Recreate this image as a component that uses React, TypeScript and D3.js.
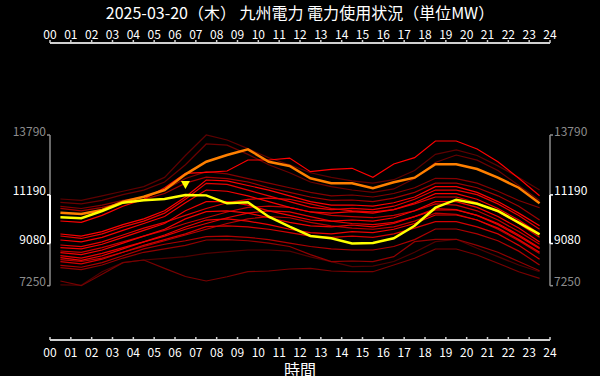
import React from "react";
import * as d3 from "d3";

const title = "2025-03-20（木） 九州電力 電力使用状況（単位MW）";
const xAxisTitle = "時間";
const tickLabels = ["00","01","02","03","04","05","06","07","08","09","10","11","12","13","14","15","16","17","18","19","20","21","22","23","24"];

// hourly values plotted at the middle of each hour (00:30 ... 23:30)
const today = [10218,10175,10492,10852,10956,11012,11190,11170,10826,10869,10244,9810,9407,9307,9080,9100,9307,9850,10635,10982,10808,10492,9984,9480];
const yesterday = [10418,10361,10535,10895,11112,11403,12084,12631,12922,13169,12631,12445,11911,11694,11694,11477,11737,11937,12518,12518,12314,11937,11503,10826];

const pastDaysAgo = [20, 2, 19, 17, 15, 3, 8, 4, 10, 5, 12, 6, 9, 7, 13, 11, 14, 16, 18, 21];
const pastSeries = [
  [11012,10950,11150,11350,11550,11950,12900,13790,13573,13200,12800,12500,12150,11950,11800,11700,11850,12250,12950,13140,12900,12450,11950,11400],
  [10058,10000,10300,10700,11000,11500,12128,12171,12228,12705,12705,12790,12197,12300,12345,11955,12532,12805,13530,13530,13183,12632,11911,11156],
  [10869,10800,10950,11200,11400,11750,12500,13400,13350,12950,12500,12150,11750,11550,11403,11300,11450,11900,12600,12922,12700,12250,11600,10950],
  [10696,10600,10750,10950,11100,11400,11900,12197,12100,11900,11700,11500,11300,11150,11186,11100,11250,11500,11911,11900,11700,11350,10950,10635],
  [10609,10500,10650,10850,11000,11250,11700,11960,11900,11750,11500,11300,11100,10950,10969,10900,11050,11300,11700,11700,11500,11150,10700,10100],
  [9494,9400,9600,9900,10150,10500,11100,11837,11800,11600,11400,11150,10900,10750,10752,10700,10850,11100,11547,11547,11300,10900,10400,9850],
  [9407,9300,9500,9800,10050,10400,11000,11693,11650,11400,11150,10900,10650,10550,10609,10550,10700,11000,11400,11400,11200,10800,10300,9700],
  [9234,9150,9350,9650,9950,10250,10850,11403,11350,11150,10900,10650,10450,10400,10461,10400,10550,10850,11242,11242,11000,10600,10100,9500],
  [9017,8950,9150,9450,9750,10000,10300,10600,10850,11000,11050,11000,10800,10600,10500,10450,10550,10800,11100,11100,10850,10450,9950,9350],
  [8900,8850,9050,9350,9650,9950,10500,10895,10900,10750,10500,10300,10100,10050,10101,10050,10200,10500,10900,10900,10650,10250,9750,9150],
  [8757,8700,8900,9150,9400,9650,9950,10200,10450,10650,10700,10650,10450,10300,10250,10200,10300,10500,10800,10750,10500,10100,9600,9050],
  [8683,8600,8800,9100,9400,9700,10150,10461,10500,10400,10200,10000,9850,9800,9884,9800,9950,10250,10535,10535,10300,9950,9450,8900],
  [8552,8450,8650,8900,9150,9400,9700,9950,10200,10400,10500,10450,10250,10050,9950,9900,10000,10250,10600,10550,10300,9900,9400,8850],
  [8465,8350,8550,8850,9150,9450,9800,10100,10150,10050,9900,9700,9550,9500,9595,9550,9700,9950,10318,10318,10100,9750,9250,8700],
  [8378,8300,8450,8700,8950,9200,9450,9700,9950,10150,10250,10200,10000,9850,9750,9700,9800,10050,10400,10350,10100,9700,9200,8650],
  [8292,8200,8400,8700,9000,9250,9500,9812,9850,9800,9700,9550,9400,9350,9400,9350,9500,9750,10027,10027,9800,9500,9000,8400],
  [8136,8050,8250,8550,8850,9050,9200,9378,9400,9350,9250,9100,8950,8850,8799,8800,8950,9250,9711,9711,9500,9200,8750,8150],
  [8032,7950,8150,8450,8700,8850,9000,9234,9250,9200,9100,8950,8600,8292,8322,8292,8510,9160,9264,9264,9000,8700,8300,7900],
  [7454,7250,7743,8250,8365,8000,7650,7454,7640,7857,7888,7975,8005,7888,7857,7857,8148,8440,8843,8843,8582,8222,7857,7569],
  [7290,7270,7857,8250,8365,8440,8510,8656,8727,8800,8800,8750,8500,8292,8075,8100,8300,8700,9160,9264,8873,8510,8148,7857],
];

const W = 600;
const H = 376;
const FONT = "'Noto Sans CJK JP', 'Noto Sans', sans-serif";

export default function App() {
  const all = [...pastSeries.flat(), ...today, ...yesterday];
  const allMax = d3.max(all) as number;
  const allMin = d3.min(all) as number;
  const todayMax = d3.max(today) as number;
  const todayMin = d3.min(today) as number;
  const todayMaxIdx = today.indexOf(todayMax);

  const x = d3.scaleLinear().domain([0, 24]).range([50, 550]);
  const y = d3.scaleLinear().domain([allMin, allMax]).range([285.7, 135]);

  const line = d3
    .line<number>()
    .x((_, i) => x(i + 0.5))
    .y((d) => y(d));

  const color = d3
    .scaleLinear<string>()
    .domain([2, 10, 21])
    .range(["#ff0000", "#e00000", "#500000"])
    .interpolate(d3.interpolateRgb);

  const order = pastSeries.map((s, i) => ({ s, a: pastDaysAgo[i] })).sort((p, q) => q.a - p.a);

  const yTicks = [allMax, todayMax, todayMin, allMin];
  const tickColor = (v: number) => (v === todayMax || v === todayMin ? "#ffffff" : "#8c8c8c");

  const mx = x(todayMaxIdx + 0.5);
  const my = y(todayMax) - 6;

  return (
    <svg width={W} height={H} style={{ position: "fixed", left: 0, top: 0, display: "block" }} fontFamily={FONT}>
      <rect x={0} y={0} width={W} height={H} fill="#000" />
      <text x={300} y={19} textAnchor="middle" fill="#fff" fontSize={16}>{title}</text>

      {/* top axis */}
      <line x1={x(0)} x2={x(24)} y1={43} y2={43} stroke="#d0d0d0" strokeWidth={2} />
      {tickLabels.map((t, i) => (
        <g key={"tt" + i}>
          <line x1={x(i)} x2={x(i)} y1={43} y2={40} stroke="#d0d0d0" strokeWidth={1.5} />
          <text x={x(i)} y={38.5} textAnchor="middle" fill="#fff" fontSize={12}>{t}</text>
        </g>
      ))}

      {/* bottom axis */}
      <line x1={x(0)} x2={x(24)} y1={340} y2={340} stroke="#d0d0d0" strokeWidth={2} />
      {tickLabels.map((t, i) => (
        <g key={"bt" + i}>
          <line x1={x(i)} x2={x(i)} y1={340} y2={337} stroke="#d0d0d0" strokeWidth={1.5} />
          <text x={x(i)} y={357} textAnchor="middle" fill="#fff" fontSize={12}>{t}</text>
        </g>
      ))}
      <text x={300} y={375.5} textAnchor="middle" fill="#fff" fontSize={16}>{xAxisTitle}</text>

      {/* y brackets */}
      {[{ ax: 50, dir: -1 }, { ax: 550, dir: 1 }].map(({ ax, dir }) => (
        <g key={"ya" + ax}>
          <line x1={ax} x2={ax} y1={y(allMax)} y2={y(allMin)} stroke="#8c8c8c" strokeWidth={1.5} />
          <line x1={ax} x2={ax} y1={y(todayMax)} y2={y(todayMin)} stroke="#fff" strokeWidth={2} />
          {yTicks.map((v) => (
            <g key={"yt" + v}>
              <line x1={ax} x2={ax + dir * 3} y1={y(v)} y2={y(v)} stroke={tickColor(v)} strokeWidth={1.5} />
              <text
                x={ax + dir * 4}
                y={y(v) + 0.5}
                textAnchor={dir < 0 ? "end" : "start"}
                fill={tickColor(v)}
                fontSize={12}
              >
                {v}
              </text>
            </g>
          ))}
        </g>
      ))}

      {/* past days */}
      {order.map(({ s, a }, i) => (
        <path key={"p" + i} d={line(s) as string} fill="none" stroke={color(a)} strokeWidth={1.2} />
      ))}
      <path d={line(yesterday) as string} fill="none" stroke="#ff8000" strokeWidth={2.5} />
      <path d={line(today) as string} fill="none" stroke="#ffff00" strokeWidth={2.5} />
      <path d={`M${mx - 4.5},${my - 8} L${mx + 4.5},${my - 8} L${mx},${my} Z`} fill="#ffff00" />
    </svg>
  );
}
